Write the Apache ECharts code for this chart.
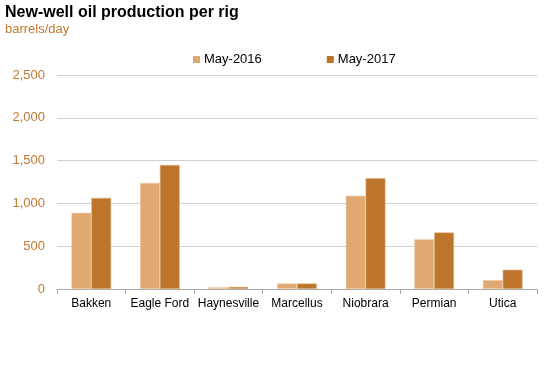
<!DOCTYPE html>
<html><head><meta charset="utf-8">
<script src="https://cdn.jsdelivr.net/npm/echarts@6/dist/echarts.min.js"></script>
<style>html,body{margin:0;padding:0;background:#fff}#c{width:557px;height:368px}</style>
</head><body><div id="c"></div>
<script>
const categories = ['Bakken','Eagle Ford','Haynesville','Marcellus','Niobrara','Permian','Utica'];
const may2016 = [890, 1240, 20, 65, 1090, 580, 105];
const may2017 = [1065, 1450, 25, 65, 1295, 660, 225];
const seriesNames = ['May-2016','May-2017'];
const yTicks = [0, 500, 1000, 1500, 2000, 2500];

const chart = echarts.init(document.getElementById('c'), null, {renderer:'canvas'});
const ff = '"Liberation Sans", Arial, sans-serif';
chart.setOption({
  animation:false,
  textStyle:{fontFamily:ff},
  title:[
    {text:'New-well oil production per rig', left:5, top:5, padding:0, textStyle:{fontFamily:ff,fontWeight:'bold',fontSize:16,color:'#000'}},
    {text:'barrels/day', left:5, top:23, padding:0, textStyle:{fontFamily:ff,fontWeight:'normal',fontSize:13,color:'#C0782F'}}
  ],
  legend:{
    data:seriesNames, top:48, left:188, itemWidth:7, itemHeight:7, itemGap:65, icon:'rect',
    itemStyle:{borderWidth:0},
    textStyle:{fontFamily:ff,fontSize:13,color:'#000',padding:[0,0,0,-1]}
  },
  grid:{left:57, right:20, top:75, bottom:79, containLabel:false},
  xAxis:{
    type:'category', data:categories,
    axisLine:{lineStyle:{color:'#aaa'}},
    axisTick:{show:true, length:5, lineStyle:{color:'#aaa'}},
    axisLabel:{color:'#000', fontSize:12, fontFamily:ff, margin:9, interval:0}
  },
  yAxis:{
    type:'value', min:yTicks[0], max:yTicks[yTicks.length-1], interval:500,
    axisLine:{show:false}, axisTick:{show:false},
    splitLine:{lineStyle:{color:'#d0d0d0'}},
    axisLabel:{color:'#C0782F', fontSize:13, fontFamily:ff, margin:12,
      formatter:v=>v.toLocaleString('en-US')}
  },
  series:[
    {name:seriesNames[0], type:'bar', data:may2016, barGap:'0%', barCategoryGap:'42%',
     itemStyle:{color:'#E0A971', borderColor:'#F0D0AA', borderWidth:0.6}},
    {name:seriesNames[1], type:'bar', data:may2017, barGap:'0%', barCategoryGap:'42%',
     itemStyle:{color:'#BD742B', borderColor:'#E3B88A', borderWidth:0.6}}
  ]
});
</script></body></html>
